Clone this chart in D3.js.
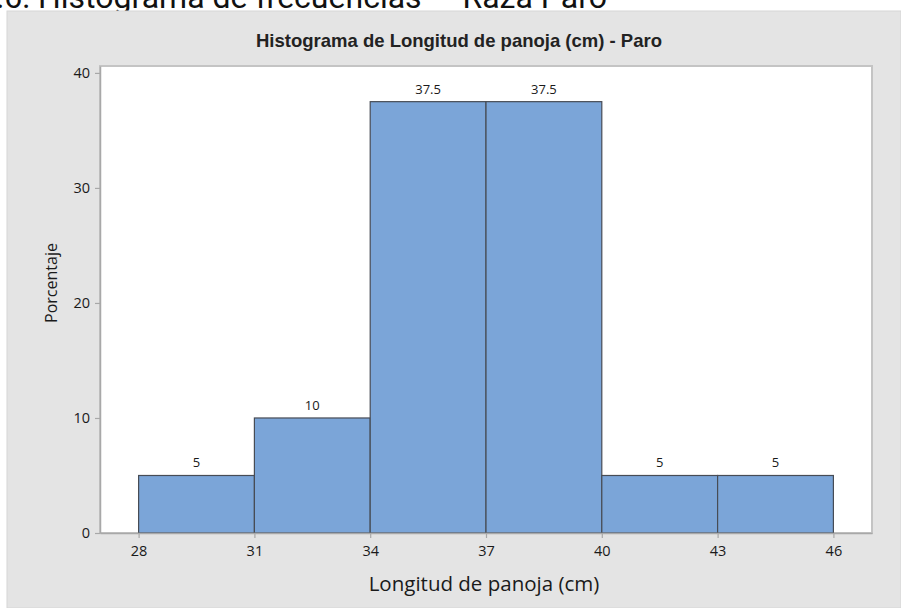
<!DOCTYPE html>
<html>
<head>
<meta charset="utf-8">
<script src="https://cdn.jsdelivr.net/npm/d3@7"></script>
<style>
  body { margin: 0; background: #fff; }
  svg { display: block; }
</style>
</head>
<body>
<div id="chart"></div>
<script>
// Histogram data (percent per bin)
const binEdges = [28, 31, 34, 37, 40, 43, 46];
const percents = [5, 10, 37.5, 37.5, 5, 5];
const xTicks = [28, 31, 34, 37, 40, 43, 46];
const yTicks = [0, 10, 20, 30, 40];

const W = 901, H = 608;
const plot = { left: 100, right: 872, top: 66, bottom: 533 };

const svg = d3.select("#chart")
  .append("svg")
  .attr("width", W)
  .attr("height", H);

// Caption of the document, cut at the top of the picture
svg.append("text")
  .attr("x", 607)
  .attr("y", 8)
  .attr("text-anchor", "end")
  .style("font-family", "Roboto, Arial, sans-serif")
  .style("font-size", "32px")
  .attr("fill", "#111")
  .text("Gráfico 2.6: Histograma de frecuencias — Raza Paro");

// Grey graph panel
svg.append("rect")
  .attr("x", 7)
  .attr("y", 11)
  .attr("width", W - 7)
  .attr("height", H - 11)
  .attr("fill", "#e4e4e4")
  .attr("stroke", "#d6d6d6")
  .attr("stroke-width", 1);

// White plot area
svg.append("rect")
  .attr("x", plot.left)
  .attr("y", plot.top)
  .attr("width", plot.right - plot.left)
  .attr("height", plot.bottom - plot.top)
  .attr("fill", "#fff")
  .attr("stroke", "#c4c4c4")
  .attr("stroke-width", 2);

const x = d3.scaleLinear().domain([27, 47]).range([plot.left, plot.right]);
const y = d3.scaleLinear().domain([0, 40.6]).range([plot.bottom, plot.top]);

const bins = percents.map((p, i) => ({ x0: binEdges[i], x1: binEdges[i + 1], value: p }));

// Bars
svg.append("g")
  .selectAll("rect")
  .data(bins)
  .join("rect")
  .attr("x", d => x(d.x0))
  .attr("y", d => y(d.value))
  .attr("width", d => x(d.x1) - x(d.x0))
  .attr("height", d => y(0) - y(d.value))
  .attr("fill", "#7ba5d8")
  .attr("stroke", "#474c55")
  .attr("stroke-width", 1.2);

const axisFont = "'Open Sans', 'Noto Sans', sans-serif";

// Bar labels
svg.append("g")
  .selectAll("text")
  .data(bins)
  .join("text")
  .attr("x", d => (x(d.x0) + x(d.x1)) / 2)
  .attr("y", d => y(d.value) - 8)
  .attr("text-anchor", "middle")
  .style("font-family", axisFont)
  .style("font-size", "13px")
  .attr("fill", "#1a1a1a")
  .text(d => d.value);

// Axes
const yAxis = svg.append("g")
  .attr("transform", `translate(${plot.left},0)`)
  .call(d3.axisLeft(y).tickValues(yTicks).tickSize(5).tickSizeOuter(0).tickPadding(5));

const xAxis = svg.append("g")
  .attr("transform", `translate(0,${plot.bottom})`)
  .call(d3.axisBottom(x).tickValues(xTicks).tickSize(5).tickSizeOuter(0).tickPadding(8));

[yAxis, xAxis].forEach(g => {
  g.select(".domain").attr("stroke", "#a8a8a8").attr("stroke-width", 1.5);
  g.selectAll(".tick line").attr("stroke", "#a8a8a8").attr("stroke-width", 1.2);
  g.selectAll(".tick text")
    .style("font-family", axisFont)
    .style("font-size", "14.5px")
    .attr("fill", "#1a1a1a");
});

// Title
svg.append("text")
  .attr("x", 459)
  .attr("y", 47)
  .attr("text-anchor", "middle")
  .style("font-family", "'Liberation Sans Narrow', 'Arial Narrow', sans-serif")
  .style("font-weight", "bold")
  .style("font-size", "18.5px")
  .attr("fill", "#222")
  .text("Histograma de Longitud de panoja (cm) - Paro");

// Axis labels
svg.append("text")
  .attr("x", 484)
  .attr("y", 591)
  .attr("text-anchor", "middle")
  .style("font-family", axisFont)
  .style("font-size", "20.5px")
  .attr("fill", "#1a1a1a")
  .text("Longitud de panoja (cm)");

svg.append("text")
  .attr("transform", "translate(57,283) rotate(-90)")
  .attr("text-anchor", "middle")
  .style("font-family", axisFont)
  .style("font-size", "16px")
  .attr("fill", "#1a1a1a")
  .text("Porcentaje");
</script>
</body>
</html>
